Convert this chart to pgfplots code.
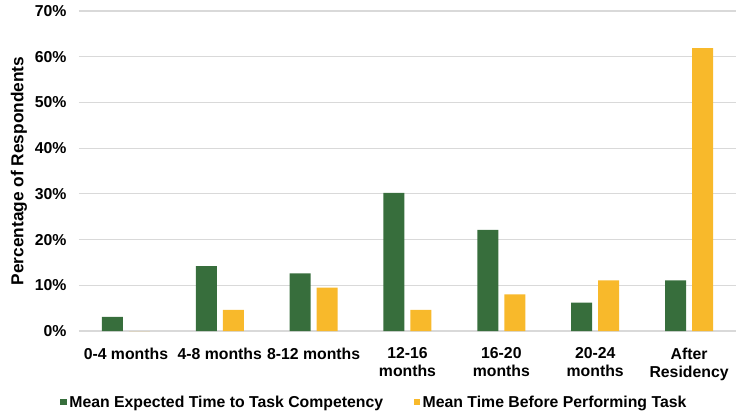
\documentclass[border=0pt]{standalone}
\usepackage{fontspec}
\setmainfont{Liberation Sans}
\usepackage{pgfplots}
\pgfplotsset{compat=1.18}

\definecolor{dkgreen}{HTML}{376E3C}
\definecolor{gold}{HTML}{F8B92B}
\definecolor{gridgray}{HTML}{D9D9D9}

\newcommand{\lbl}{\fontsize{15.8bp}{18bp}\selectfont\bfseries}

\begin{document}
\begin{tikzpicture}
  \useasboundingbox (-79bp,-83bp) rectangle (657bp,331bp);
  \begin{axis}[
    at={(0,0)}, anchor=south west,
    scale only axis,
    width=657bp, height=320bp,
    ybar, bar width=21bp,
    xmin=-0.5, xmax=6.5,
    ymin=0, ymax=70,
    xtick={0,...,6},
    xticklabels={0-4 months, 4-8 months, 8-12 months, 12-16\\months, 16-20\\months, 20-24\\months, After\\Residency},
    xticklabel style={align=center, font=\lbl, yshift=-9bp},
    ytick={0,10,...,70},
    yticklabels={0\%,10\%,20\%,30\%,40\%,50\%,60\%,70\%},
    yticklabel style={font=\lbl, xshift=-9bp},
    ylabel={Percentage of Respondents},
    ylabel style={font=\fontsize{17.3bp}{20bp}\selectfont\bfseries, at={(axis description cs:-0.0913,0.5)}, anchor=center},
    ymajorgrids,
    grid style={gridgray, line width=1.1bp},
    axis line style={draw=none},
    tick style={draw=none},
    legend columns=2,
    legend style={draw=none, font=\lbl, at={(axis description cs:0.45,-0.222)}, anchor=center,
      /tikz/every even column/.append style={column sep=28bp},
      nodes={inner sep=2.5bp}},
    legend image code/.code={\path[#1,draw=none] (0bp,-3bp) rectangle (6.5bp,3.5bp);},
  ]
    % Mean Expected Time to Task Competency
    \addplot[fill=dkgreen, draw=none, bar shift=-13.5bp] coordinates {
      (0,3.1) (1,14.2) (2,12.6) (3,30.2) (4,22.1) (5,6.2) (6,11.1)
    };
    % Mean Time Before Performing Task
    \addplot[fill=gold, draw=none, bar shift=13.5bp] coordinates {
      (0,0) (1,4.6) (2,9.5) (3,4.6) (4,8.0) (5,11.1) (6,61.9)
    };
    \legend{Mean Expected Time to Task Competency, Mean Time Before Performing Task}
  \end{axis}
\end{tikzpicture}
\end{document}
